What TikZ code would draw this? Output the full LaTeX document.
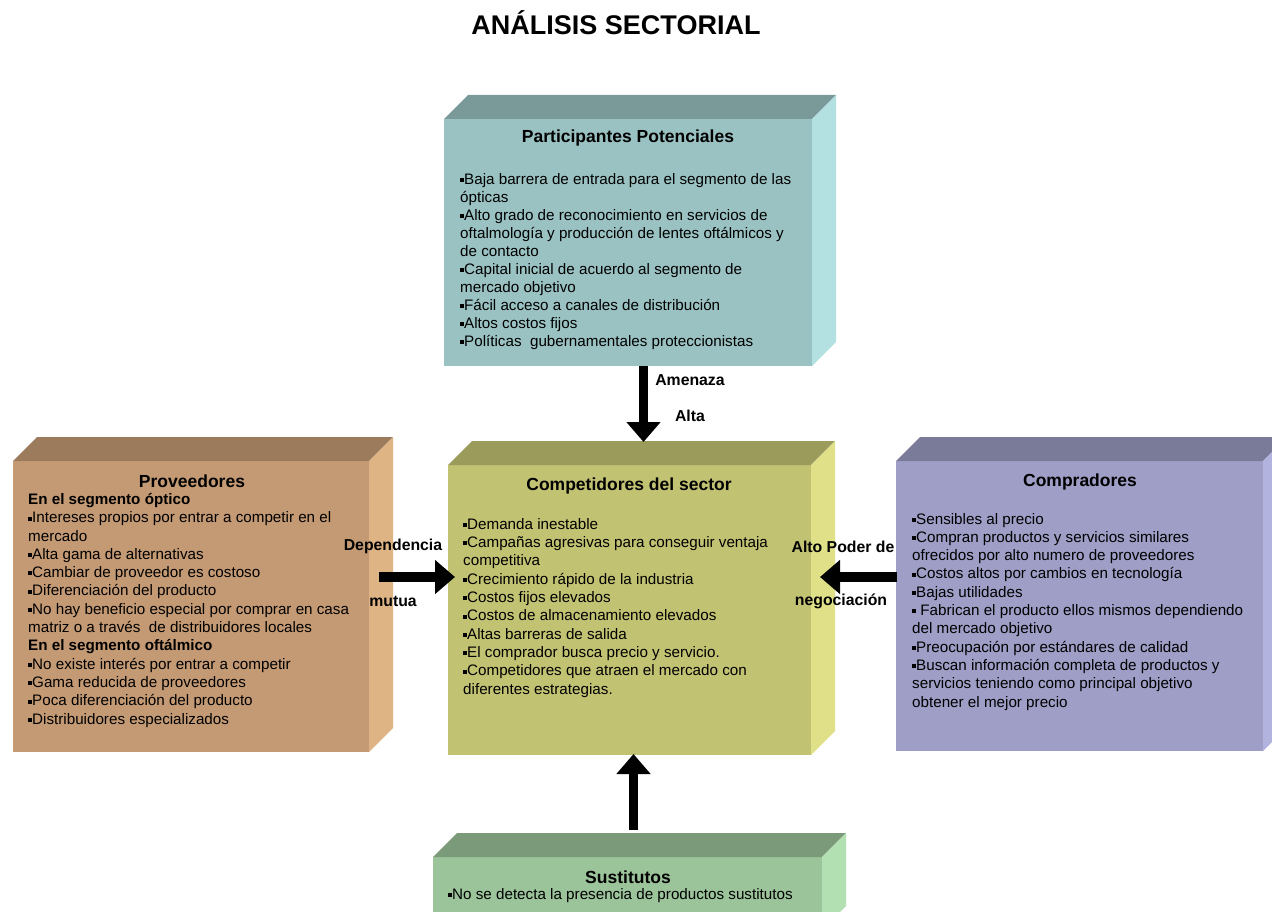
\documentclass[tikz,border=0pt]{standalone}
\usepackage{fontspec}
\setmainfont{Liberation Sans}
\usetikzlibrary{arrows.meta,calc}
\definecolor{pF}{HTML}{9BC2C2}\definecolor{pT}{HTML}{7A9999}\definecolor{pS}{HTML}{B3E0E0}
\definecolor{vF}{HTML}{C49A74}\definecolor{vT}{HTML}{9C7B5C}\definecolor{vS}{HTML}{DFB485}
\definecolor{cF}{HTML}{C2C273}\definecolor{cT}{HTML}{9B9B5C}\definecolor{cS}{HTML}{E0E088}
\definecolor{bF}{HTML}{9E9EC7}\definecolor{bT}{HTML}{7A7A99}\definecolor{bS}{HTML}{B3B3E0}
\definecolor{sF}{HTML}{9BC49A}\definecolor{sT}{HTML}{7A9A7A}\definecolor{sS}{HTML}{B3E0B3}
\newcommand{\bul}{\rule[2.2pt]{4pt}{4pt}}
\newcommand{\cubebox}[8]{%
  \node[inner sep=0pt, outer sep=0pt, fill=#6, minimum width={#4pt-#2pt}, minimum height={#5pt-#3pt}, anchor=north west] (#1) at (#2,#3) {};
  \fill[#7] (#1.north west) -- ++(24,-24) -- ($(#1.north east)+(24,-24)$) -- (#1.north east) -- cycle;
  \fill[#8] (#1.north east) -- ++(24,-24) -- ($(#1.south east)+(24,-24)$) -- (#1.south east) -- cycle;
}
\begin{document}
\begin{tikzpicture}[x=1pt,y=-1pt,
  body/.style={anchor=base west, align=left, inner sep=0pt, font=\fontsize{15.2}{18.3}\selectfont},
  head/.style={inner sep=0pt, font=\fontsize{17.5}{20}\selectfont\bfseries},
  lab/.style={inner sep=0pt, font=\fontsize{15.8}{18}\selectfont\bfseries},
  bigarrow/.style={line width=9.5pt, -{Triangle[length=20pt,width=33pt]}}]
\useasboundingbox (0,0) rectangle (1272,912);

\node[inner sep=0pt, font=\fontsize{27}{30}\selectfont\bfseries] (title) at (616,23) {ANÁLISIS SECTORIAL};

\cubebox{part}{444}{119}{812}{366}{pF}{pT}{pS}
\cubebox{prov}{13}{461}{369}{752}{vF}{vT}{vS}
\cubebox{comp}{448}{465}{811}{755}{cF}{cT}{cS}
\cubebox{buy}{896}{461}{1263}{751}{bF}{bT}{bS}
\cubebox{sust}{433}{857}{822}{930}{sF}{sT}{sS}

% headings
\node[head] (partH) at (628,138) {Participantes Potenciales};
\node[head] (provH) at (192,481) {Proveedores};
\node[head] (compH) at (629,486) {Competidores del sector};
\node[head] (buyH) at (1080,482) {Compradores};
\node[head] (sustH) at (628,877) {Sustitutos};

% bodies (anchored at the baseline of their last line)
\node[body, font=\fontsize{15.2}{18}\selectfont] (partB) at (460,346) {\bul Baja barrera de entrada para el segmento de las\\
ópticas\\
\bul Alto grado de reconocimiento en servicios de\\
oftalmología y producción de lentes oftálmicos y\\
de contacto\\
\bul Capital inicial de acuerdo al segmento de\\
mercado objetivo\\
\bul Fácil acceso a canales de distribución\\
\bul Altos costos fijos\\
\bul Políticas\ \ gubernamentales proteccionistas};

\node[body] (provB) at (28,724) {\textbf{En el segmento óptico}\\
\bul Intereses propios por entrar a competir en el\\
mercado\\
\bul Alta gama de alternativas\\
\bul Cambiar de proveedor es costoso\\
\bul Diferenciación del producto\\
\bul No hay beneficio especial por comprar en casa\\
matriz o a través\ \ de distribuidores locales\\
\textbf{En el segmento oftálmico}\\
\bul No existe interés por entrar a competir\\
\bul Gama reducida de proveedores\\
\bul Poca diferenciación del producto\\
\bul Distribuidores especializados};

\node[body] (compB) at (463,694) {\bul Demanda inestable\\
\bul Campañas agresivas para conseguir ventaja\\
competitiva\\
\bul Crecimiento rápido de la industria\\
\bul Costos fijos elevados\\
\bul Costos de almacenamiento elevados\\
\bul Altas barreras de salida\\
\bul El comprador busca precio y servicio.\\
\bul Competidores que atraen el mercado con\\
diferentes estrategias.};

\node[body] (buyB) at (912,707) {\bul Sensibles al precio\\
\bul Compran productos y servicios similares\\
ofrecidos por alto numero de proveedores\\
\bul Costos altos por cambios en tecnología\\
\bul Bajas utilidades\\
\bul\ Fabrican el producto ellos mismos dependiendo\\
del mercado objetivo\\
\bul Preocupación por estándares de calidad\\
\bul Buscan información completa de productos y\\
servicios teniendo como principal objetivo\\
obtener el mejor precio};

\node[body] (sustB) at (448,899) {\bul No se detecta la presencia de productos sustitutos};

% arrows
\coordinate (axD) at (643.5,0);
\coordinate (axU) at (633.5,0);
\coordinate (ayL) at (0,577);
\coordinate (ayR) at (0,577);
\draw[bigarrow] (part.south -| axD) -- ($(comp.north -| axD)+(0,-23)$);
\draw[bigarrow] ($(sust.north -| axU)+(0,-27)$) -- ($(comp.south -| axU)+(0,-1)$);
\draw[bigarrow] ($(prov.east |- ayL)+(10,0)$) -- ($(comp.west |- ayL)+(7,0)$);
\draw[bigarrow] ($(buy.west |- ayR)+(1,0)$) -- ($(comp.east |- ayR)+(9,0)$);

% labels
\node[lab] (lAm) at (690,380) {Amenaza};
\node[lab] (lAl) at (690,416) {Alta};
\node[lab] (lDe) at (393,546) {Dependencia};
\node[lab] (lMu) at (393,601) {mutua};
\node[lab] (lAp) at (843,547) {Alto Poder de};
\node[lab] (lNe) at (841,601) {negociación};
\end{tikzpicture}
\end{document}
